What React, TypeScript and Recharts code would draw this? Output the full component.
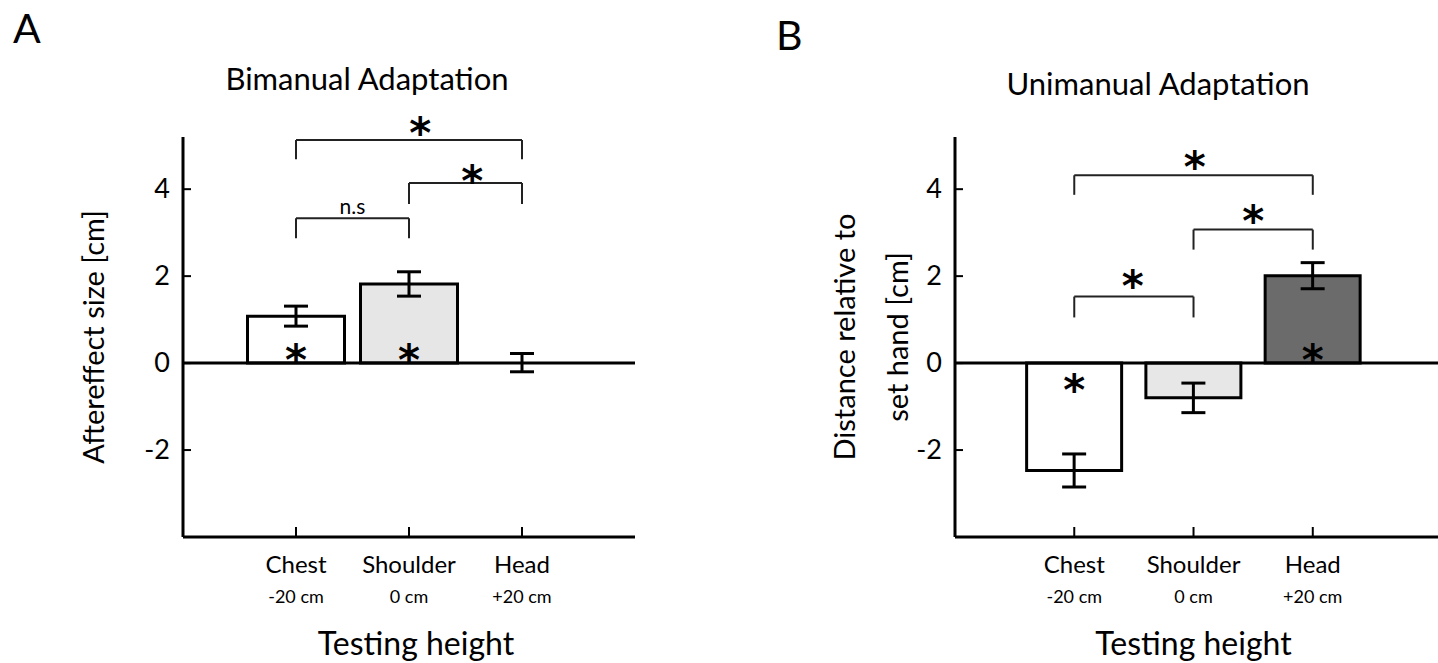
import React from 'react';
import {
  Bar,
  BarChart,
  Cell,
  ErrorBar,
  ReferenceDot,
  ReferenceLine,
  XAxis,
  YAxis,
} from 'recharts';

const FONT = 'Lato, "Open Sans", sans-serif';
const STAR_FONT = '"DejaVu Sans", sans-serif';

// testing heights, placed at 1, 2, 3 on a numeric x axis
const positions = [1, 2, 3];
const heights = ['Chest', 'Shoulder', 'Head'];
const offsets = ['-20 cm', '0 cm', '+20 cm'];
const yTicks = [-2, 0, 2, 4];

const bimanualMean = [1.08, 1.82, 0.01];
const bimanualErr = [0.23, 0.28, 0.21];
const bimanualFill = ['#ffffff', '#e6e6e6', 'none'];

const unimanualMean = [-2.47, -0.8, 2.01];
const unimanualErr = [0.38, 0.34, 0.3];
const unimanualFill = ['#ffffff', '#e7e7e7', '#6b6b6b'];

// [from, to, bracket level, foot level]
const bimanualBrackets = [
  [1, 3, 5.13, 4.69],
  [2, 3, 4.14, 3.66],
  [1, 2, 3.33, 2.87],
];
const bimanualMarks = [
  { x: 2.1, y: 5.47, text: '*' },
  { x: 2.56, y: 4.38, text: '*' },
  { x: 1.5, y: 3.6, text: 'n.s' },
  { x: 1, y: 0.25, text: '*' },
  { x: 2, y: 0.25, text: '*' },
];

const unimanualBrackets = [
  [1, 3, 4.32, 3.87],
  [2, 3, 3.07, 2.61],
  [1, 2, 1.53, 1.05],
];
const unimanualMarks = [
  { x: 2.01, y: 4.7, text: '*' },
  { x: 2.5, y: 3.46, text: '*' },
  { x: 1.49, y: 1.95, text: '*' },
  { x: 1, y: -0.43, text: '*' },
  { x: 3, y: 0.25, text: '*' },
];

const HeightTick = (props: any) => {
  const { x, y, payload } = props;
  const i = positions.indexOf(payload.value);
  return (
    <g>
      <line x1={x} x2={x} y1={y} y2={y - 10} stroke="#000" strokeWidth={2} />
      <text x={x} y={y + 36} textAnchor="middle" fontSize={24} fontFamily={FONT} fill="#000">
        {heights[i]}
      </text>
      <text x={x} y={y + 66} textAnchor="middle" fontSize={18} fontFamily={FONT} fill="#000">
        {offsets[i]}
      </text>
    </g>
  );
};

const ValueTick = (props: any) => {
  const { x, y, payload } = props;
  return (
    <g>
      <line x1={x} x2={x + 8} y1={y} y2={y} stroke="#000" strokeWidth={2} />
      <text x={x - 13} y={y + 9} textAnchor="end" fontSize={27} fontFamily={FONT} fill="#000">
        {payload.value}
      </text>
    </g>
  );
};

const Mark = ({ cx, cy, text }: any) =>
  text === '*' ? (
    <text
      x={cx}
      y={cy + 23}
      textAnchor="middle"
      fontSize={42}
      fontWeight="bold"
      fontFamily={STAR_FONT}
      fill="#000"
    >
      *
    </text>
  ) : (
    <text x={cx} y={cy + 7} textAnchor="middle" fontSize={21} fontFamily={FONT} fill="#000">
      {text}
    </text>
  );

interface PanelProps {
  means: number[];
  errs: number[];
  fills: string[];
  brackets: number[][];
  marks: { x: number; y: number; text: string }[];
  width: number;
  axisWidth: number;
  plotWidth: number;
  xMax: number;
  barSize: number;
  yLabel: { text: string; x: number }[];
  xLabelShift: number;
}

const Panel: React.FC<PanelProps> = ({
  means,
  errs,
  fills,
  brackets,
  marks,
  width,
  axisWidth,
  plotWidth,
  xMax,
  barSize,
  yLabel,
  xLabelShift,
}) => {
  const data = positions.map((pos, i) => ({
    pos,
    name: heights[i],
    mean: means[i],
    err: errs[i],
  }));

  const segments = brackets.flatMap(([a, b, top, foot], i) => [
    [[a, top], [b, top], `h${i}`],
    [[a, top], [a, foot], `l${i}`],
    [[b, top], [b, foot], `r${i}`],
  ]) as [number[], number[], string][];

  return (
    <BarChart
      width={width}
      height={663}
      data={data}
      margin={{ top: 137, right: width - axisWidth - plotWidth, bottom: 0, left: 0 }}
    >
      <XAxis
        type="number"
        dataKey="pos"
        domain={[0, xMax]}
        ticks={positions}
        interval={0}
        height={126}
        tickSize={0}
        tickMargin={0}
        tick={<HeightTick />}
        axisLine={{ stroke: '#000', strokeWidth: 3 }}
        label={{
          content: (p: any) => {
            const vb = p.viewBox;
            return (
              <text
                x={vb.x + vb.width / 2 + xLabelShift}
                y={655}
                textAnchor="middle"
                fontSize={32}
                fontFamily={FONT}
                fill="#000"
              >
                Testing height
              </text>
            );
          },
        }}
      />
      <YAxis
        type="number"
        domain={[-4, 5.2]}
        ticks={yTicks}
        interval={0}
        width={axisWidth}
        tickSize={0}
        tickMargin={0}
        tick={<ValueTick />}
        axisLine={{ stroke: '#000', strokeWidth: 3 }}
        label={{
          content: () => (
            <g>
              {yLabel.map((l) => (
                <text
                  key={l.text}
                  transform={`translate(${l.x}, 337) rotate(-90)`}
                  textAnchor="middle"
                  fontSize={29}
                  fontFamily={FONT}
                  fill="#000"
                >
                  {l.text}
                </text>
              ))}
            </g>
          ),
        }}
      />
      <Bar dataKey="mean" barSize={barSize} stroke="#000" strokeWidth={3} isAnimationActive={false}>
        {data.map((d, i) => (
          <Cell key={d.name} fill={fills[i]} stroke={fills[i] === 'none' ? 'none' : '#000'} />
        ))}
        <ErrorBar dataKey="err" width={12} stroke="#000" strokeWidth={3} isAnimationActive={false} />
      </Bar>
      <ReferenceLine y={0} stroke="#000" strokeWidth={3} />
      {segments.map(([p1, p2, key]) => (
        <ReferenceLine
          key={key}
          segment={[
            { x: p1[0], y: p1[1] },
            { x: p2[0], y: p2[1] },
          ]}
          stroke="#222"
          strokeWidth={2}
          ifOverflow="visible"
        />
      ))}
      {marks.map((m, i) => (
        <ReferenceDot
          key={i}
          x={m.x}
          y={m.y}
          r={0}
          ifOverflow="visible"
          shape={(p: any) => <Mark cx={p.cx} cy={p.cy} text={m.text} />}
        />
      ))}
    </BarChart>
  );
};

export default function App() {
  return (
    <div style={{ position: 'absolute', left: 0, top: 0, width: 1438, height: 663, background: '#fff' }}>
      <div style={{ position: 'absolute', left: 0, top: 0 }}>
        <Panel
          means={bimanualMean}
          errs={bimanualErr}
          fills={bimanualFill}
          brackets={bimanualBrackets}
          marks={bimanualMarks}
          width={720}
          axisWidth={183}
          plotWidth={452}
          xMax={4}
          barSize={97}
          yLabel={[{ text: 'Aftereffect size [cm]', x: 104 }]}
          xLabelShift={7}
        />
      </div>
      <div style={{ position: 'absolute', left: 720, top: 0 }}>
        <Panel
          means={unimanualMean}
          errs={unimanualErr}
          fills={unimanualFill}
          brackets={unimanualBrackets}
          marks={unimanualMarks}
          width={718}
          axisWidth={235}
          plotWidth={483}
          xMax={4.05}
          barSize={95}
          yLabel={[
            { text: 'Distance relative to', x: 135 },
            { text: 'set hand [cm]', x: 188 },
          ]}
          xLabelShift={-3}
        />
      </div>
      <svg
        width={1438}
        height={663}
        style={{ position: 'absolute', left: 0, top: 0, pointerEvents: 'none' }}
        fontFamily={FONT}
      >
        <text x={13} y={43} fontSize={41} fill="#000">A</text>
        <text x={367} y={90} fontSize={31} textAnchor="middle" fill="#000">Bimanual Adaptation</text>
        <text x={776} y={50} fontSize={41} fill="#000">B</text>
        <text x={1158} y={95} fontSize={31} textAnchor="middle" fill="#000">Unimanual Adaptation</text>
      </svg>
    </div>
  );
}
